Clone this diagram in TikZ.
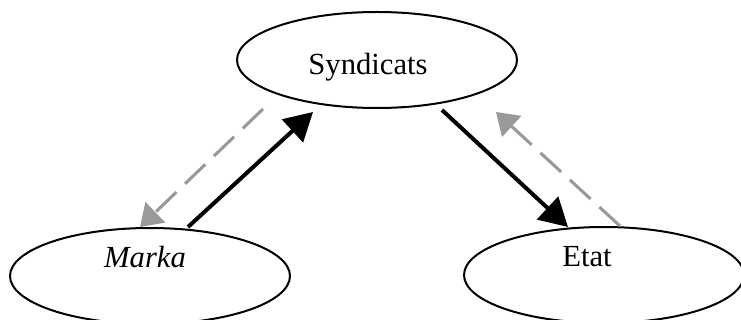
\documentclass[tikz,border=0pt]{standalone}
\usepackage{fontspec}
\setmainfont{Liberation Serif}
\usepackage{tikz}
\usetikzlibrary{positioning, shapes, arrows.meta}
\definecolor{lightgrey}{RGB}{153,153,153}

\begin{document}
\begin{tikzpicture}[x=0.75pt, y=-0.75pt, semithick,
  actor/.style={ellipse, draw, line width=1.5pt, minimum width=210pt, minimum height=72pt, inner sep=0pt},
  txt/.style={font=\fontsize{23}{26}\selectfont},
  flow/.style={line width=3pt, -{Triangle[length=21pt,width=23pt]}},
  back/.style={lightgrey, line width=2.3pt, dash pattern=on 21pt off 9pt, -{Triangle[length=16pt,width=21pt]}}]
  \useasboundingbox (0,0) rectangle (741,320);

  \node[actor, label={[txt, xshift=-6.75pt, yshift=-5.25pt]center:Syndicats}] (synd) at (377,60) {};
  \node[actor, label={[txt, xshift=-3.75pt, yshift=14.25pt]center:\textit{Marka}}] (marka) at (150,276) {};
  \node[actor, label={[txt, xshift=-12.75pt, yshift=13.5pt]center:Etat}] (etat) at (604,275) {};

  \draw[back] ([shift={(-114,0)}]synd.south) -- ([shift={(-10,0)}]marka.north);
  \draw[flow] ([shift={(38,0)}]marka.north) -- ([shift={(-64,3)}]synd.south);
  \draw[flow] ([shift={(65,1)}]synd.south) -- ([shift={(-36,1)}]etat.north);
  \draw[back] ([shift={(16,0)}]etat.north) -- ([shift={(119,3)}]synd.south);

\end{tikzpicture}
\end{document}
